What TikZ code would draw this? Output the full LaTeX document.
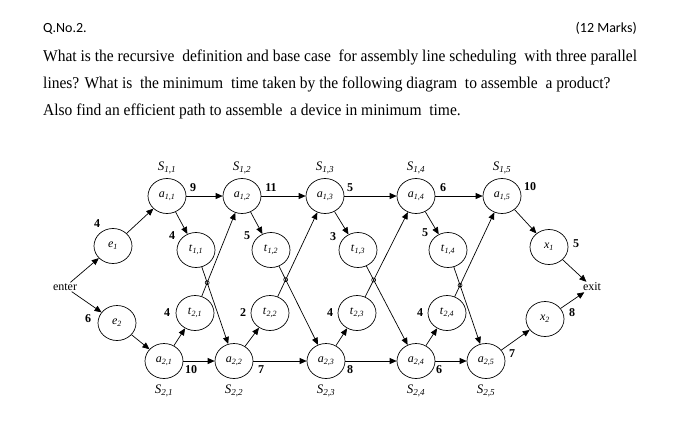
\documentclass[tikz,border=0pt]{standalone}
\usepackage{fontspec}
\setmainfont{Liberation Serif}
\newfontfamily\headfont{Carlito}
\newfontfamily\bodyfont[FakeStretch=0.94]{Liberation Serif}
\usetikzlibrary{shapes.geometric,arrows.meta,intersections}
\newcommand\stn[2]{\textit{#1}\textsubscript{\textit{#2}}}
\tikzset{
  station/.style={draw,ellipse,minimum width=38pt,minimum height=35pt,inner sep=0pt,line width=0.7pt,font=\fontsize{12}{14}\selectfont},
  slabel/.style={font=\fontsize{13}{15}\selectfont,inner sep=0pt},
  wt/.style={font=\bfseries\fontsize{12}{14}\selectfont,inner sep=0pt},
  endlabel/.style={font=\fontsize{12}{14}\selectfont,inner sep=1pt},
  headline/.style={inner sep=0pt,font=\headfont\fontsize{14}{16}\selectfont},
  textline/.style={anchor=base west,inner sep=0pt,font=\bodyfont\fontsize{16.5}{19}\selectfont},
  arr/.style={-{Triangle[length=7pt,width=6pt]},line width=0.7pt},
  hop/.style={line width=0.6pt},
}
\begin{document}
\begin{tikzpicture}[x=1pt,y=-1pt]
\useasboundingbox(0,0)rectangle(682,424);
\node[headline,anchor=base west](qno)at(43,32){Q.No.2.};
\node[headline,anchor=base east](marks)at(637,32){(12 Marks)};
\node[textline](l1)at(43,61){What is the recursive\ \ definition and base case\ \ for assembly line scheduling\ \ with three parallel};
\node[textline](l2)at(43,88){lines? What is\ \ the minimum\ \ time taken by the following diagram\ \ to assemble\ \ a product?};
\node[textline](l3)at(43,115){Also find an efficient path to assemble\ \ a device in minimum\ \ time.};
\node[endlabel](enter)at(65,287){enter};
\node[endlabel](exit)at(592,287){exit};
\node[station](e1)at(113,246){\stn{e}{1}};
\node[station](e2)at(117,323){\stn{e}{2}};
\node[station](a11)at(167,196){\stn{a}{1,1}};
\node[station](a12)at(242,196){\stn{a}{1,2}};
\node[station](a13)at(325,196){\stn{a}{1,3}};
\node[station](a14)at(416,196){\stn{a}{1,4}};
\node[station](a15)at(502,196){\stn{a}{1,5}};
\node[station](t11)at(196,250){\stn{t}{1,1}};
\node[station](t12)at(271,250){\stn{t}{1,2}};
\node[station](t13)at(358,250){\stn{t}{1,3}};
\node[station](t14)at(448,250){\stn{t}{1,4}};
\node[station](t21)at(195,313){\stn{t}{2,1}};
\node[station](t22)at(270,313){\stn{t}{2,2}};
\node[station](t23)at(357,313){\stn{t}{2,3}};
\node[station](t24)at(447,313){\stn{t}{2,4}};
\node[station](a21)at(164,361){\stn{a}{2,1}};
\node[station](a22)at(234,361){\stn{a}{2,2}};
\node[station](a23)at(326,361){\stn{a}{2,3}};
\node[station](a24)at(416,361){\stn{a}{2,4}};
\node[station](a25)at(486,361){\stn{a}{2,5}};
\node[station](x1)at(549,247){\stn{x}{1}};
\node[station](x2)at(545,319){\stn{x}{2}};
\node[slabel]at(167,168){\stn{S}{1,1}};
\node[slabel]at(242,168){\stn{S}{1,2}};
\node[slabel]at(325,168){\stn{S}{1,3}};
\node[slabel]at(416,168){\stn{S}{1,4}};
\node[slabel]at(502,168){\stn{S}{1,5}};
\node[slabel]at(164,391){\stn{S}{2,1}};
\node[slabel]at(234,391){\stn{S}{2,2}};
\node[slabel]at(326,391){\stn{S}{2,3}};
\node[slabel]at(416,391){\stn{S}{2,4}};
\node[slabel]at(486,391){\stn{S}{2,5}};
\node[wt]at(193,188){9};
\node[wt]at(97,224){4};
\node[wt]at(172,236){4};
\node[wt]at(247,236){5};
\node[wt]at(271,188){11};
\node[wt]at(350,188){5};
\node[wt]at(333,237){3};
\node[wt]at(443,188){6};
\node[wt]at(425,233){5};
\node[wt]at(530,187){10};
\node[wt]at(576,244){5};
\node[wt]at(88,319){6};
\node[wt]at(167,313){4};
\node[wt]at(191,370){10};
\node[wt]at(243,313){2};
\node[wt]at(261,370){7};
\node[wt]at(330,313){4};
\node[wt]at(350,370){8};
\node[wt]at(420,313){4};
\node[wt]at(439,370){6};
\node[wt]at(512,354){7};
\node[wt]at(572,313){8};
\draw[arr](enter)--(e1);
\draw[arr](enter)--(e2);
\draw[arr](e1)--(a11);
\draw[arr](e2)--(a21);
\draw[arr](a11)--(a12);
\draw[arr](a12)--(a13);
\draw[arr](a13)--(a14);
\draw[arr](a14)--(a15);
\draw[arr](a21)--(a22);
\draw[arr](a22)--(a23);
\draw[arr](a23)--(a24);
\draw[arr](a24)--(a25);
\draw[arr](a11)--(t11);
\draw[arr](a12)--(t12);
\draw[arr](a13)--(t13);
\draw[arr](a14)--(t14);
\draw[arr](a21)--(t21);
\draw[arr](a22)--(t22);
\draw[arr](a23)--(t23);
\draw[arr](a24)--(t24);
\draw[arr,name path=d1](t11)--(a22);
\draw[arr,name path=d2](t12)--(a23);
\draw[arr,name path=d3](t13)--(a24);
\draw[arr,name path=d4](t14)--(a25);
\draw[arr,name path=u1](t21)--(a12);
\draw[arr,name path=u2](t22)--(a13);
\draw[arr,name path=u3](t23)--(a14);
\draw[arr,name path=u4](t24)--(a15);
\draw[hop,name intersections={of=d1 and u1,by=h1}](h1)circle[radius=2pt];
\draw[hop,name intersections={of=d2 and u2,by=h2}](h2)circle[radius=2pt];
\draw[hop,name intersections={of=d3 and u3,by=h3}](h3)circle[radius=2pt];
\draw[hop,name intersections={of=d4 and u4,by=h4}](h4)circle[radius=2pt];
\draw[arr](a15)--(x1);
\draw[arr](a25)--(x2);
\draw[arr](x1)--(exit);
\draw[arr](x2)--(exit);
\end{tikzpicture}
\end{document}
